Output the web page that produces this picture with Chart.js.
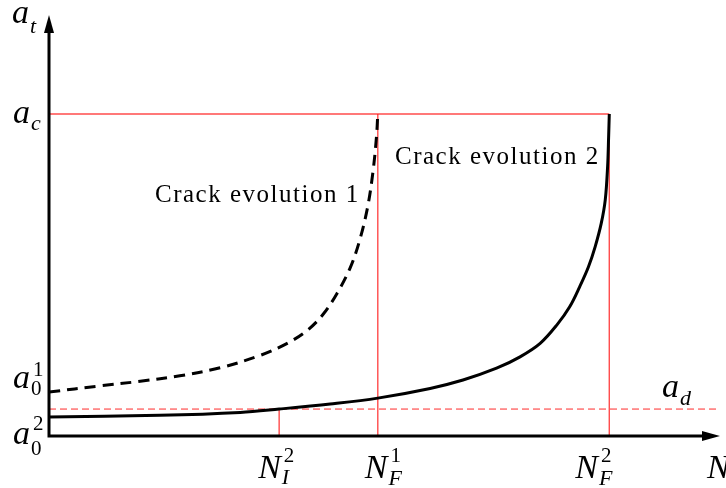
<!DOCTYPE html>
<html>
<head>
<meta charset="utf-8">
<script src="https://cdn.jsdelivr.net/npm/chart.js@4"></script>
<style>
  body { margin: 0; background: #fff; }
  #wrap { width: 726px; height: 488px; }
</style>
</head>
<body>
<div id="wrap"><canvas id="myChart"></canvas></div>
<script>
// crack length a_t against cycles N (arbitrary units, 0..100 on both axes)
const crack1N = [0, 7.6, 13.6, 19.5, 25.5, 31.4, 35.5, 38.5, 40.8, 42.9, 44.9, 46.3, 47.5, 48.3, 48.8, 49.0];
const crack1A = [10.45, 11.9, 13.0, 14.3, 16.2, 19.1, 22.0, 25.1, 28.8, 33.8, 40.0, 46.5, 54.5, 63.0, 71.0, 76.5];
const crack2N = [0, 16.5, 28.5, 34.3, 41.9, 49.0, 56.8, 61.7, 66.7, 70.2, 73.2, 75.7, 77.6, 79.1, 80.4, 81.4, 82.3, 82.9, 83.25, 83.4, 83.5];
const crack2A = [4.5, 4.9, 5.6, 6.4, 7.6, 9.0, 11.3, 13.3, 16.1, 18.8, 22.0, 26.4, 30.7, 35.5, 40.2, 45.0, 50.5, 56.1, 64.0, 71.0, 76.5];

// marked levels and cycle counts
const aC = 76.5, aD = 6.4, a01 = 10.45, a02 = 4.5;
const nI2 = 34.3, nF1 = 49.0, nF2 = 83.5;

const pts = (xs, ys) => xs.map((x, i) => ({ x: x, y: ys[i] }));

function redLine(data, dash) {
  return {
    data: data, borderColor: dash ? "rgba(255,20,20,0.9)" : "rgba(255,30,30,0.8)",
    borderWidth: dash ? 1 : 1.4,
    borderDash: dash ? [7, 4] : [], pointRadius: 0, tension: 0
  };
}

// draws the axes with arrows and the math labels
const decor = {
  id: "decor",
  afterDatasetsDraw(chart) {
    const ctx = chart.ctx;
    const x = chart.scales.x, y = chart.scales.y;
    const x0 = x.getPixelForValue(0), y0 = y.getPixelForValue(0);
    const xEnd = x.getPixelForValue(100), yEnd = y.getPixelForValue(100);
    ctx.save();
    ctx.strokeStyle = "#000";
    ctx.fillStyle = "#000";
    ctx.lineWidth = 3;
    ctx.beginPath();
    ctx.moveTo(x0, yEnd + 10);
    ctx.lineTo(x0, y0);
    ctx.lineTo(xEnd - 10, y0);
    ctx.stroke();
    ctx.beginPath();
    ctx.moveTo(x0, yEnd);
    ctx.lineTo(x0 - 5, yEnd + 18);
    ctx.lineTo(x0 + 5, yEnd + 18);
    ctx.closePath();
    ctx.fill();
    ctx.beginPath();
    ctx.moveTo(xEnd, y0);
    ctx.lineTo(xEnd - 18, y0 - 5);
    ctx.lineTo(xEnd - 18, y0 + 5);
    ctx.closePath();
    ctx.fill();

    const fam = '"Liberation Serif", "Times New Roman", serif';
    const big = "italic 34px " + fam;
    const subI = "italic 22px " + fam;
    const subR = "21px " + fam;
    function label(main, sub, sup, lx, by, subFont, supFont, subDy, supDy) {
      ctx.font = big;
      ctx.fillText(main, lx, by);
      const w = ctx.measureText(main).width;
      if (sub) { ctx.font = subFont; ctx.fillText(sub, lx + w + 1, by + subDy); }
      if (sup) { ctx.font = supFont; ctx.fillText(sup, lx + w + 3, by + supDy); }
    }
    label("a", "t", null, 12, yEnd + 8, subI, null, 10, 0);
    label("a", "c", null, 13, y.getPixelForValue(aC) + 9, subI, null, 7, 0);
    label("a", "0", "1", 13, y.getPixelForValue(a01) - 4, subR, subR, 7, -12);
    label("a", "0", "2", 13, y.getPixelForValue(a02) + 27, subR, subR, 11, -14);
    label("a", "d", null, 662, y.getPixelForValue(aD) - 12, subI, null, 8, 0);

    const nb = y0 + 42;
    label("N", "I", "2", x.getPixelForValue(nI2) - 21, nb, subI, subR, 6, -16);
    label("N", "F", "1", x.getPixelForValue(nF1) - 13, nb, subI, subR, 7, -16);
    label("N", "F", "2", x.getPixelForValue(nF2) - 34, nb, subI, subR, 7, -16);
    label("N", null, null, xEnd - 13, nb, subI, subR, 0, 0);

    ctx.font = "25px " + fam;
    ctx.letterSpacing = "1.5px";
    ctx.fillText("Crack evolution 1", 155, 202);
    ctx.fillText("Crack evolution 2", 395, 164);
    ctx.restore();
  }
};

new Chart("myChart", {
  type: "line",
  data: {
    datasets: [
      { data: pts(crack1N, crack1A), borderColor: "#000", borderWidth: 3, borderDash: [11, 7],
        pointRadius: 0, tension: 0.35 },
      { data: pts(crack2N, crack2A), borderColor: "#000", borderWidth: 3,
        pointRadius: 0, tension: 0.35 },
      redLine([{ x: 0, y: aC }, { x: nF2, y: aC }]),
      redLine([{ x: nF1, y: 0 }, { x: nF1, y: aC }]),
      redLine([{ x: nF2, y: 0 }, { x: nF2, y: aC }]),
      redLine([{ x: nI2, y: 0 }, { x: nI2, y: aD }]),
      redLine([{ x: 0, y: aD }, { x: 99.5, y: aD }], true)
    ]
  },
  options: {
    responsive: true,
    maintainAspectRatio: false,
    animation: false,
    layout: { padding: { left: 49, right: 6, top: 15, bottom: 52 } },
    scales: {
      x: { type: "linear", min: 0, max: 100, display: false },
      y: { type: "linear", min: 0, max: 100, display: false }
    },
    plugins: { legend: { display: false }, tooltip: { enabled: false } }
  },
  plugins: [decor]
});
</script>
</body>
</html>
